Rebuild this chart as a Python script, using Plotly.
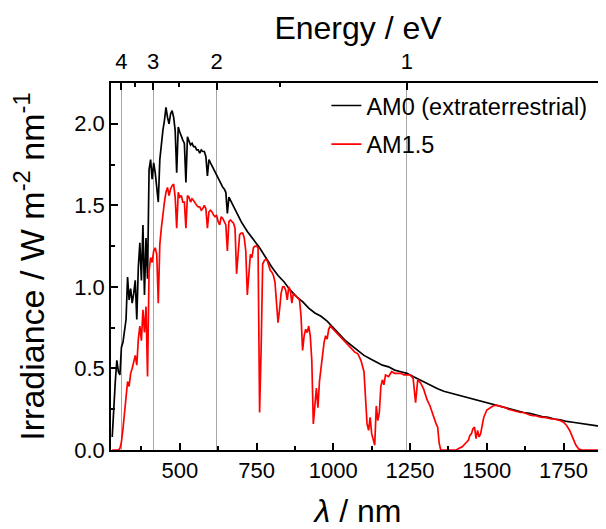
import plotly.graph_objects as go

# ---------------- data ----------------
wl_am0 = [280, 285, 290, 295, 300, 305, 310, 315, 320, 325, 330, 335, 340, 345, 350,
          355, 360, 365, 370, 375, 380, 385, 390, 395, 400, 405, 410, 415, 420, 425,
          430, 435, 440, 445, 450, 455, 460, 465, 470, 475, 480, 485, 490, 495, 500,
          505, 510, 515, 520, 525, 530, 535, 540, 545, 550, 555, 560, 565, 570, 575,
          580, 585, 590, 595, 600, 605, 610, 615, 620, 625, 630, 635, 640, 645, 650,
          655, 660, 665, 670, 675, 680, 685, 690, 695, 700,
          720, 740, 760, 780, 800, 820, 840, 860, 880, 900, 920, 940, 960, 980, 1000,
          1020, 1040, 1060, 1080, 1100, 1120, 1140, 1160, 1180, 1200, 1220, 1240, 1260,
          1280, 1300, 1320, 1340, 1360, 1380, 1400, 1420, 1440, 1460, 1480, 1500, 1520,
          1540, 1560, 1580, 1600, 1620, 1640, 1660, 1680, 1700, 1720, 1740, 1760, 1780,
          1800, 1820, 1840, 1860, 1880]
am0 = [0.08, 0.30, 0.42, 0.55, 0.48, 0.46, 0.63, 0.66, 0.74, 0.80, 1.06, 0.92, 0.99, 0.90, 0.96,
       1.04, 0.80, 1.12, 1.27, 1.04, 1.38, 0.95, 1.30, 1.05, 1.72, 1.78, 1.66, 1.76, 1.70, 1.62,
       1.52, 1.78, 1.88, 1.96, 2.02, 2.10, 2.04, 2.00, 2.06, 2.08, 2.04, 1.96, 1.70, 1.98, 1.95,
       1.92, 1.90, 1.88, 1.64, 1.92, 1.90, 1.87, 1.88, 1.86, 1.86, 1.84, 1.84, 1.82, 1.84, 1.83,
       1.83, 1.80, 1.68, 1.78, 1.76, 1.74, 1.72, 1.70, 1.68, 1.66, 1.64, 1.63, 1.61, 1.60, 1.58,
       1.45, 1.55, 1.53, 1.51, 1.50, 1.48, 1.46, 1.44, 1.42, 1.40,
       1.34, 1.29, 1.24, 1.18, 1.12, 1.07, 1.03, 0.98, 0.94, 0.91, 0.87, 0.84, 0.82, 0.79, 0.75,
       0.71, 0.67, 0.64, 0.61, 0.58, 0.56, 0.54, 0.52, 0.51, 0.49, 0.48, 0.47, 0.45,
       0.43, 0.41, 0.39, 0.375, 0.36, 0.35, 0.34, 0.33, 0.32, 0.31, 0.30, 0.29, 0.28,
       0.27, 0.26, 0.25, 0.24, 0.23, 0.225, 0.215, 0.205, 0.20, 0.19, 0.185, 0.175, 0.17,
       0.165, 0.16, 0.155, 0.148, 0.14]

wl_am15 = [280, 285, 290, 295, 300, 305, 310, 315, 320, 325, 330, 335, 340, 345, 350,
           355, 360, 365, 370, 375, 380, 385, 390, 395, 400, 405, 410, 415, 420, 425,
           430, 435, 440, 445, 450, 455, 460, 465, 470, 475, 480, 485, 490, 495, 500,
           505, 510, 515, 520, 525, 530, 535, 540, 545, 550, 555, 560, 565, 570, 575,
           580, 585, 590, 595, 600, 605, 610, 615, 620, 625, 630, 635, 640, 645, 650,
           655, 660, 665, 670, 675, 680, 685, 690, 695, 700, 705, 710, 715, 720, 725,
           730, 735, 740, 745, 750, 755, 760, 765, 770, 775, 780, 785, 790, 795, 800,
           805, 810, 815, 820, 825, 830, 835, 840, 845, 850, 855, 860, 865, 870, 875,
           880, 885, 890, 895, 900, 905, 910, 915, 920, 925, 930, 935, 940, 945, 950,
           955, 960, 965, 970, 975, 980, 985, 990, 995, 1000,
           1010, 1020, 1030, 1040, 1050, 1060, 1070, 1080, 1090, 1100, 1105, 1110, 1115,
           1120, 1125, 1130, 1135, 1140, 1145, 1150, 1155, 1160, 1165, 1170, 1180, 1190,
           1200, 1210, 1220, 1230, 1240, 1250, 1260, 1268, 1275, 1285, 1295, 1305, 1315,
           1325, 1335, 1340, 1345, 1350, 1375, 1400, 1410, 1420, 1430, 1440, 1445, 1450,
           1455, 1460, 1465, 1470, 1475, 1480, 1485, 1490, 1500, 1510, 1520, 1530, 1540,
           1550, 1560, 1570, 1580, 1590, 1600, 1610, 1620, 1630, 1640, 1650, 1660, 1670,
           1680, 1690, 1700, 1710, 1720, 1730, 1740, 1750, 1760, 1770, 1780, 1790, 1800,
           1810, 1850, 1885]
am15 = [0.0, 0.0, 0.0, 0.0, 0.0, 0.01, 0.05, 0.13, 0.22, 0.34, 0.42, 0.39, 0.47, 0.50, 0.55,
        0.58, 0.52, 0.68, 0.76, 0.67, 0.86, 0.72, 0.88, 0.45, 1.10, 1.18, 1.15, 1.22, 1.24, 1.20,
        0.90, 1.26, 1.36, 1.45, 1.52, 1.58, 1.61, 1.56, 1.60, 1.62, 1.63, 1.55, 1.36, 1.58, 1.55,
        1.56, 1.52, 1.52, 1.36, 1.56, 1.55, 1.52, 1.54, 1.53, 1.51, 1.50, 1.49, 1.49, 1.47, 1.48,
        1.50, 1.48, 1.36, 1.46, 1.47, 1.46, 1.44, 1.43, 1.44, 1.40, 1.38, 1.43, 1.42, 1.40, 1.38,
        1.22, 1.40, 1.41, 1.40, 1.39, 1.36, 1.08, 1.20, 1.32, 1.33, 1.33, 1.30, 1.22, 0.95, 1.10,
        1.20, 1.18, 1.24, 1.25, 1.25, 1.24, 0.23, 0.62, 1.14, 1.16, 1.17, 1.16, 1.13, 1.10, 1.09,
        1.07, 1.03, 0.90, 0.78, 0.86, 0.96, 1.00, 1.00, 0.98, 0.92, 1.00, 0.98, 0.90, 0.96, 0.95,
        0.94, 0.93, 0.92, 0.82, 0.61, 0.70, 0.74, 0.72, 0.76, 0.70, 0.55, 0.16, 0.30, 0.38, 0.26,
        0.42, 0.50, 0.58, 0.66, 0.70, 0.68, 0.74, 0.76, 0.75, 0.74,
        0.72, 0.70, 0.68, 0.66, 0.64, 0.62, 0.60, 0.59, 0.55, 0.48, 0.34, 0.16, 0.12,
        0.20, 0.10, 0.07, 0.03, 0.27, 0.18, 0.23, 0.39, 0.43, 0.40, 0.46, 0.45, 0.48,
        0.47, 0.47, 0.47, 0.46, 0.46, 0.46, 0.44, 0.29, 0.43, 0.41, 0.37, 0.31, 0.27,
        0.21, 0.16, 0.14, 0.04, 0.0, 0.0, 0.0, 0.01, 0.02, 0.04, 0.06, 0.09, 0.10,
        0.13, 0.14, 0.07, 0.12, 0.08, 0.10, 0.15, 0.20, 0.245, 0.26, 0.27, 0.275, 0.27,
        0.265, 0.26, 0.25, 0.245, 0.24, 0.235, 0.23, 0.23, 0.22, 0.215, 0.21, 0.21, 0.205,
        0.20, 0.20, 0.195, 0.19, 0.19, 0.185, 0.18, 0.17, 0.15, 0.12, 0.08, 0.03, 0.005,
        0.0, 0.0, 0.0]

energy_major = [4, 3, 2, 1]          # eV, top axis labels
energy_minor = [3.5, 2.5, 1.5]       # eV, top axis minor ticks
x_ticks = [500, 750, 1000, 1250, 1500, 1750]
y_ticks = [0.0, 0.5, 1.0, 1.5, 2.0]

assert len(wl_am0) == len(am0), (len(wl_am0), len(am0))
assert len(wl_am15) == len(am15), (len(wl_am15), len(am15))

HC = 1239.84  # eV nm
e_major_nm = [HC / e for e in energy_major]
e_minor_nm = [HC / e for e in energy_minor]

FONT = "Liberation Sans, Arial, sans-serif"
XR = [276, 1885]

fig = go.Figure()
fig.add_trace(go.Scatter(x=wl_am0, y=am0, mode="lines", name="AM0 (extraterrestrial)",
                         line=dict(color="black", width=1.7), legendgroup="a"))
fig.add_trace(go.Scatter(x=wl_am15, y=am15, mode="lines", name="AM1.5",
                         line=dict(color="red", width=1.7), legendgroup="b"))
# empty trace so the top (energy) axis is drawn
fig.add_trace(go.Scatter(x=e_major_nm, y=[None] * len(e_major_nm), xaxis="x2",
                         mode="lines", showlegend=False, hoverinfo="skip"))

axis_common = dict(showline=True, linecolor="black", linewidth=1.5, ticks="inside",
                   tickcolor="black", tickwidth=1.5, ticklen=7, zeroline=False,
                   automargin=False,
                   tickfont=dict(family=FONT, size=22, color="black"))

# the page body adds an 8 px margin, so the figure is 8 px smaller / shifted
fig.update_layout(
    width=598, height=521,
    margin=dict(l=103, r=1, t=75, b=79),
    paper_bgcolor="white", plot_bgcolor="white",
    font=dict(family=FONT, color="black"),
    xaxis=dict(range=XR, tickvals=x_ticks, showgrid=False,
               minor=dict(dtick=125, tick0=0, ticks="inside", ticklen=4,
                          tickcolor="black", tickwidth=1.5, showgrid=False),
               title=dict(text="<i>λ</i> / nm", font=dict(family=FONT, size=32), standoff=19),
               **axis_common),
    xaxis2=dict(range=XR, overlaying="x", side="top", anchor="y",
                tickvals=e_major_nm, ticktext=[str(e) for e in energy_major],
                showgrid=True, gridcolor="#a6a6a6", gridwidth=1,
                ticklabelstandoff=3,
                minor=dict(tickvals=e_minor_nm, ticks="inside", ticklen=4,
                           tickcolor="black", tickwidth=1.5, showgrid=False),
                title=dict(text="Energy / eV", font=dict(family=FONT, size=32), standoff=0),
                **axis_common),
    yaxis=dict(range=[0, 2.25], tickvals=y_ticks, tickformat=".1f", showgrid=False,
               mirror="ticks",
               minor=dict(dtick=0.25, tick0=0, ticks="inside", ticklen=4,
                          tickcolor="black", tickwidth=1.5, showgrid=False),
               title=dict(text="Irradiance / W m<sup>-2</sup> nm<sup>-1</sup>",
                          font=dict(family=FONT, size=34), standoff=20),
               **axis_common),
    legend=dict(x=0.436, y=0.998, xanchor="left", yanchor="top",
                bgcolor="rgba(0,0,0,0)", borderwidth=0, tracegroupgap=5,
                font=dict(family=FONT, size=23.5, color="black")),
    showlegend=True,
)

fig.write_html("out.html")
